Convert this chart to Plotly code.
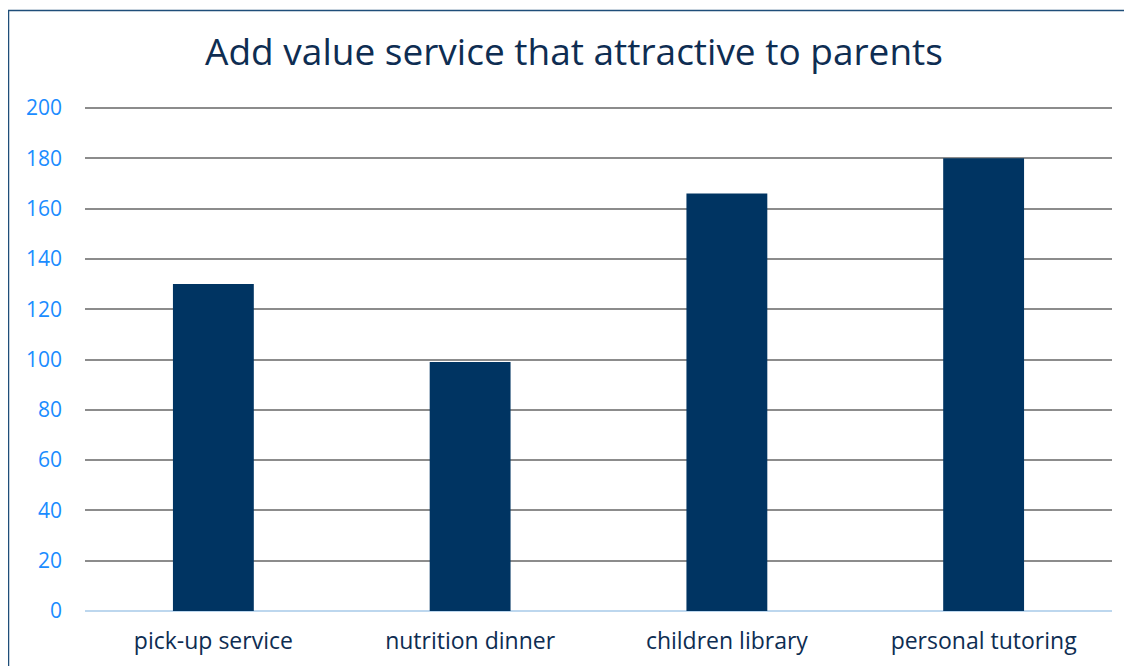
import plotly.graph_objects as go

categories = ["pick-up service", "nutrition dinner", "children library", "personal tutoring"]
values = [130, 99, 166, 180]
y_ticks = [0, 20, 40, 60, 80, 100, 120, 140, 160, 180, 200]

# page body has an 8px offset; compensate in figure coordinates
OFF = 8
W, H = 1132, 666
ml, mt = 85 - OFF, 107 - OFF
pw, ph = 1027, 504
mr = W - ml - pw
mb = H - mt - ph

fig = go.Figure(go.Bar(x=categories, y=values, marker=dict(color="#003462", line=dict(width=0)), width=0.315))

def px_x(p):
    return (p - OFF - ml) / pw

def px_y(p):
    return (mt + ph - (p - OFF)) / ph

fig.update_layout(
    width=W, height=H,
    margin=dict(l=ml, r=mr, t=mt, b=mb),
    paper_bgcolor="white", plot_bgcolor="white",
    font=dict(family="Open Sans, DejaVu Sans, sans-serif"),
    title=dict(text="Add value service that attractive to parents", x=0.5, xanchor="center",
               y=1 - (52 - OFF) / H, yanchor="middle",
               font=dict(size=37, color="#0E2D52")),
    showlegend=False,
    xaxis=dict(showgrid=False, showline=False, ticks="", ticklabelstandoff=14,
               tickfont=dict(size=23, color="#0E2D52")),
    yaxis=dict(range=[0, 200.4], tickvals=y_ticks, showgrid=True, gridcolor="#8C8C8C", gridwidth=2,
               zeroline=True, zerolinecolor="#BDD7EE", zerolinewidth=2,
               ticks="", ticklabelstandoff=22, tickfont=dict(size=21, color="#1A8CFF")),
    shapes=[dict(type="rect", xref="paper", yref="paper",
                 x0=px_x(8.5), x1=px_x(1160), y0=px_y(700), y1=px_y(10.5),
                 line=dict(color="#1F4E79", width=1.5), fillcolor="rgba(0,0,0,0)", layer="above")],
)

fig.write_html("out.html")
